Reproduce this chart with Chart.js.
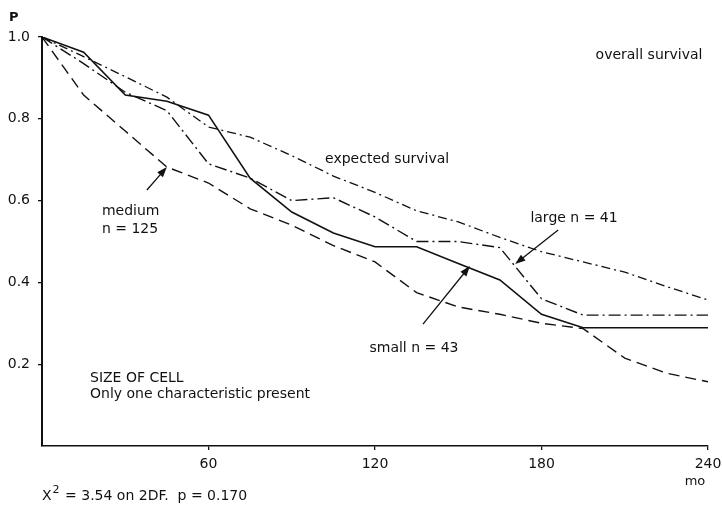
<!DOCTYPE html>
<html>
<head>
<meta charset="utf-8">
<script src="https://cdn.jsdelivr.net/npm/chart.js@4"></script>
<style>
  html, body { margin: 0; padding: 0; background: #fff; }
</style>
</head>
<body>
<canvas id="myChart" width="722" height="509"></canvas>
<script>
// survival, one value every 15 months
const months   = [0, 15, 30, 45, 60, 75, 90, 105, 120, 135, 150, 165, 180, 195, 210, 225, 240];
const expected = [1.0, 0.952, 0.903, 0.853, 0.78, 0.755, 0.71, 0.66, 0.62, 0.575, 0.548, 0.51, 0.475, 0.45, 0.425, 0.39, 0.357];
const large    = [1.0, 0.935, 0.865, 0.82, 0.69, 0.655, 0.60, 0.607, 0.56, 0.50, 0.50, 0.485, 0.36, 0.32, 0.32, 0.32, 0.32];
const small    = [1.0, 0.963, 0.858, 0.843, 0.809, 0.655, 0.572, 0.521, 0.487, 0.487, 0.446, 0.406, 0.322, 0.289, 0.289, 0.289, 0.289];
const medium   = [1.0, 0.858, 0.77, 0.682, 0.643, 0.58, 0.54, 0.49, 0.45, 0.375, 0.34, 0.322, 0.30, 0.287, 0.215, 0.178, 0.157];

const xTicks = [60, 120, 180, 240];
const yTicks = [0.2, 0.4, 0.6, 0.8, 1.0];

const FONT = "DejaVu Sans";
const INK = "#111";

const toPoints = (ys) => months.map((m, i) => ({ x: m, y: ys[i] }));

function lineSet(label, ys, dash, width) {
  return {
    label: label,
    data: toPoints(ys),
    borderColor: INK,
    borderWidth: width,
    borderDash: dash,
    pointRadius: 0,
    fill: false,
    tension: 0
  };
}

// labels and arrows, placed in data units (months, P)
const notes = [
  { text: "overall survival", x: 238, y: 0.945, align: "right" },
  { text: "expected survival", x: 102, y: 0.692 },
  { text: "medium", x: 21.6, y: 0.565 },
  { text: "n = 125", x: 21.6, y: 0.521 },
  { text: "large n = 41", x: 176, y: 0.548 },
  { text: "small n = 43", x: 118, y: 0.23 },
  { text: "SIZE OF CELL", x: 17.3, y: 0.157 },
  { text: "Only one characteristic present", x: 17.3, y: 0.117 }
];
const arrows = [
  { from: [37.8, 0.626], to: [45, 0.682] },
  { from: [137.3, 0.298], to: [154.2, 0.44] },
  { from: [186, 0.528], to: [170.5, 0.445] }
];

const notesPlugin = {
  id: "notes",
  afterDraw(chart) {
    const ctx = chart.ctx;
    const sx = chart.scales.x, sy = chart.scales.y;
    const area = chart.chartArea;
    ctx.save();
    ctx.fillStyle = INK;
    ctx.strokeStyle = INK;
    ctx.font = "14px " + FONT;
    ctx.textBaseline = "alphabetic";
    notes.forEach(n => {
      ctx.textAlign = n.align || "left";
      ctx.fillText(n.text, sx.getPixelForValue(n.x), sy.getPixelForValue(n.y));
    });

    arrows.forEach(a => {
      const x1 = sx.getPixelForValue(a.from[0]), y1 = sy.getPixelForValue(a.from[1]);
      const x2 = sx.getPixelForValue(a.to[0]), y2 = sy.getPixelForValue(a.to[1]);
      const ang = Math.atan2(y2 - y1, x2 - x1);
      ctx.lineWidth = 1.3;
      ctx.beginPath();
      ctx.moveTo(x1, y1);
      ctx.lineTo(x2 - 8 * Math.cos(ang), y2 - 8 * Math.sin(ang));
      ctx.stroke();
      ctx.beginPath();
      ctx.moveTo(x2, y2);
      ctx.lineTo(x2 - 11 * Math.cos(ang - 0.35), y2 - 11 * Math.sin(ang - 0.35));
      ctx.lineTo(x2 - 11 * Math.cos(ang + 0.35), y2 - 11 * Math.sin(ang + 0.35));
      ctx.closePath();
      ctx.fill();
    });

    // axis names
    ctx.font = "bold 13px " + FONT;
    ctx.textAlign = "left";
    ctx.fillText("P", area.left - 33, area.top - 16);
    ctx.font = "13px " + FONT;
    ctx.textAlign = "center";
    ctx.fillText("mo", area.right - 13, area.bottom + 39);

    // chi-square line
    ctx.font = "14px " + FONT;
    ctx.textAlign = "left";
    let x = area.left;
    const base = area.bottom + 54;
    ctx.fillText("X", x, base);
    x += ctx.measureText("X").width;
    ctx.font = "11px " + FONT;
    ctx.fillText("2", x + 1, base - 7);
    x += ctx.measureText("2").width + 2;
    ctx.font = "14px " + FONT;
    ctx.fillText(" = 3.54 on 2DF.  p = 0.170", x, base);
    ctx.restore();
  }
};

const ctx = document.getElementById("myChart").getContext("2d");

const myChart = new Chart(ctx, {
  type: "line",
  data: {
    datasets: [
      lineSet("expected survival", expected, [9, 4, 2, 4], 1.3),
      lineSet("large", large, [12, 4, 2, 4], 1.4),
      lineSet("small", small, [], 1.6),
      lineSet("medium", medium, [11, 6], 1.4)
    ]
  },
  options: {
    responsive: false,
    animation: false,
    layout: { padding: { top: 37, right: 14, left: 0, bottom: 0 } },
    plugins: {
      legend: { display: false },
      tooltip: { enabled: false }
    },
    scales: {
      x: {
        type: "linear",
        min: 0,
        max: 240,
        afterBuildTicks: (s) => { s.ticks = xTicks.map(v => ({ value: v })); },
        afterFit: (s) => { s.height = 63; s.paddingRight = 0; s.paddingLeft = 0; },
        ticks: {
          color: INK,
          font: { family: FONT, size: 14 },
          padding: 6,
          maxRotation: 0,
          autoSkip: false
        },
        grid: { drawOnChartArea: false, drawTicks: true, tickLength: 4, color: INK, lineWidth: 1.3 },
        border: { display: true, color: INK, width: 1.6 }
      },
      y: {
        min: 0,
        max: 1,
        afterBuildTicks: (s) => { s.ticks = yTicks.map(v => ({ value: v })); },
        afterFit: (s) => { s.width = 42; },
        ticks: {
          color: INK,
          font: { family: FONT, size: 14 },
          padding: 8,
          callback: (v) => Number(v).toFixed(1)
        },
        grid: { drawOnChartArea: false, drawTicks: true, tickLength: 4, color: INK, lineWidth: 1.3 },
        border: { display: true, color: INK, width: 2 }
      }
    }
  },
  plugins: [notesPlugin]
});
</script>
</body>
</html>
